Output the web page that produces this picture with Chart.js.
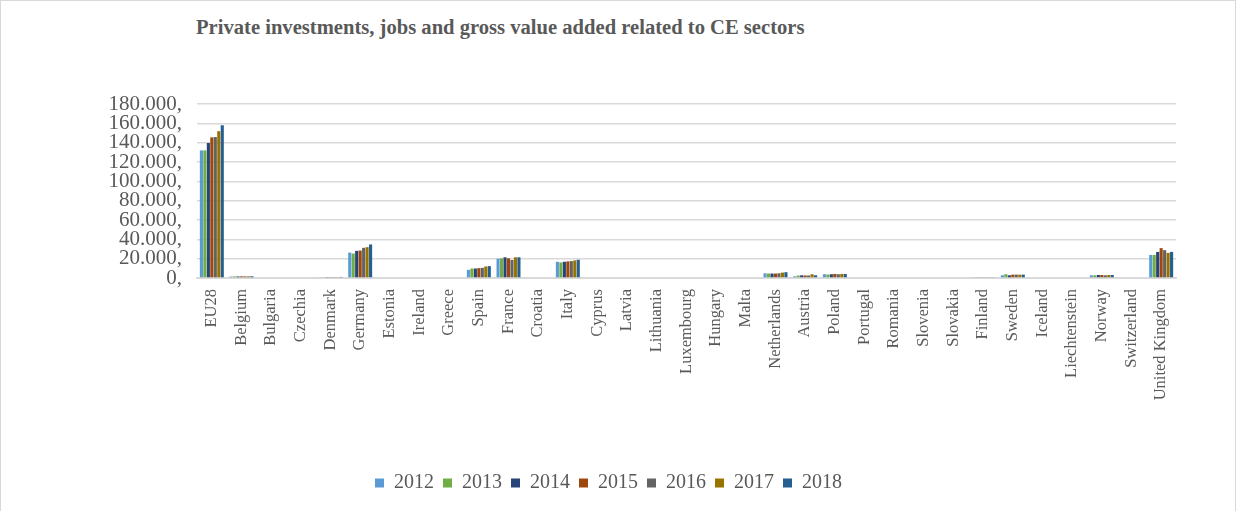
<!DOCTYPE html>
<html lang="en">
<head>
    <meta charset="UTF-8">
    <title>Private investments, jobs and gross value added related to CE sectors</title>
    <script src="https://cdn.jsdelivr.net/npm/chart.js@4.4.0/dist/chart.umd.js"></script>
    <style>
        body { margin: 0; background: #fff; }
        #wrap { position: relative; width: 1236px; height: 511px; box-sizing: border-box; border: 1px solid #d9d9d9; border-bottom: none; }
        #title { position: absolute; left: 195px; top: 15px; font: bold 20.6px "Liberation Serif", serif; color: #595959; }
        canvas { position: absolute; left: 0; top: 0; }
    </style>
</head>
<body>
<div id="wrap">
    <div id="title">Private investments, jobs and gross value added related to CE sectors</div>
    <canvas id="chart" width="1234" height="510"></canvas>
</div>
<script>
    const countries = ['EU28', 'Belgium', 'Bulgaria', 'Czechia', 'Denmark', 'Germany', 'Estonia', 'Ireland', 'Greece', 'Spain',
        'France', 'Croatia', 'Italy', 'Cyprus', 'Latvia', 'Lithuania', 'Luxembourg', 'Hungary', 'Malta', 'Netherlands',
        'Austria', 'Poland', 'Portugal', 'Romania', 'Slovenia', 'Slovakia', 'Finland', 'Sweden', 'Iceland', 'Liechtenstein',
        'Norway', 'Switzerland', 'United Kingdom'];
    const years = ['2012', '2013', '2014', '2015', '2016', '2017', '2018'];
    const colors = ['#5B9BD5', '#70AD47', '#264478', '#9E480E', '#636363', '#997300', '#255E91'];

    // values per country: [2012 .. 2018]
    const EU28 = [132000, 132000, 139700, 145500, 145800, 151900, 158000];
    const belgium = [1500, 1600, 1600, 1700, 1700, 1700, 1800];
    const denmark = [900, 900, 1000, 1000, 1000, 1000, 1100];
    const germany = [26300, 25300, 28100, 28400, 31200, 31900, 34700];
    const spain = [8400, 9800, 9800, 10200, 10500, 11900, 12300];
    const france = [20000, 20400, 21400, 20400, 18600, 21400, 21400];
    const italy = [16800, 16100, 16800, 17200, 17500, 18200, 18900];
    const netherlands = [4900, 4600, 4600, 4600, 4900, 5600, 6000];
    const austria = [1800, 2500, 2800, 2600, 2600, 3900, 2800];
    const poland = [3900, 3600, 3900, 4200, 3900, 4200, 4200];
    const finland = [900, 900, 900, 900, 900, 900, 900];
    const sweden = [2800, 3900, 2800, 3500, 3500, 3500, 3500];
    const norway = [2800, 2800, 3100, 3100, 2800, 3100, 3100];
    const unitedKingdom = [23900, 23900, 27000, 30900, 28800, 26000, 27000];

    const byCountry = {
        'EU28': EU28, 'Belgium': belgium, 'Denmark': denmark, 'Germany': germany, 'Spain': spain,
        'France': france, 'Italy': italy, 'Netherlands': netherlands, 'Austria': austria, 'Poland': poland,
        'Finland': finland, 'Sweden': sweden, 'Norway': norway, 'United Kingdom': unitedKingdom
    };

    const yTicks = [0, 20000, 40000, 60000, 80000, 100000, 120000, 140000, 160000, 180000];

    const datasets = years.map((y, i) => ({
        label: y,
        data: countries.map(c => byCountry[c] ? byCountry[c][i] : null),
        backgroundColor: colors[i],
        barPercentage: 0.9,
        categoryPercentage: 0.82
    }));

    const serif = '"Liberation Serif", serif';

    new Chart(document.getElementById('chart'), {
        type: 'bar',
        data: { labels: countries, datasets: datasets },
        options: {
            responsive: false,
            animation: false,
            layout: { padding: { left: 40, right: 59, top: 103, bottom: 8 } },
            plugins: {
                legend: {
                    position: 'bottom',
                    labels: { font: { family: serif, size: 20 }, color: '#595959', boxWidth: 9, boxHeight: 9, padding: 9 }
                },
                tooltip: { enabled: false }
            },
            scales: {
                x: {
                    grid: { display: false },
                    border: { color: '#d9d9d9', width: 2 },
                    ticks: { font: { family: serif, size: 16.5 }, color: '#595959', maxRotation: 90, minRotation: 90, autoSkip: false },
                    afterFit: s => { s.height = 186; }
                },
                y: {
                    min: 0, max: 180000,
                    afterBuildTicks: s => { s.ticks = yTicks.map(v => ({ value: v })); },
                    grid: { color: '#d9d9d9', lineWidth: 1.5, drawTicks: false },
                    border: { display: false },
                    ticks: {
                        font: { family: serif, size: 21 }, color: '#595959', padding: 15, autoSkip: false,
                        callback: v => v.toLocaleString('de-DE') + ','
                    },
                    afterFit: s => { s.width = 156; }
                }
            }
        }
    });
</script>
</body>
</html>
